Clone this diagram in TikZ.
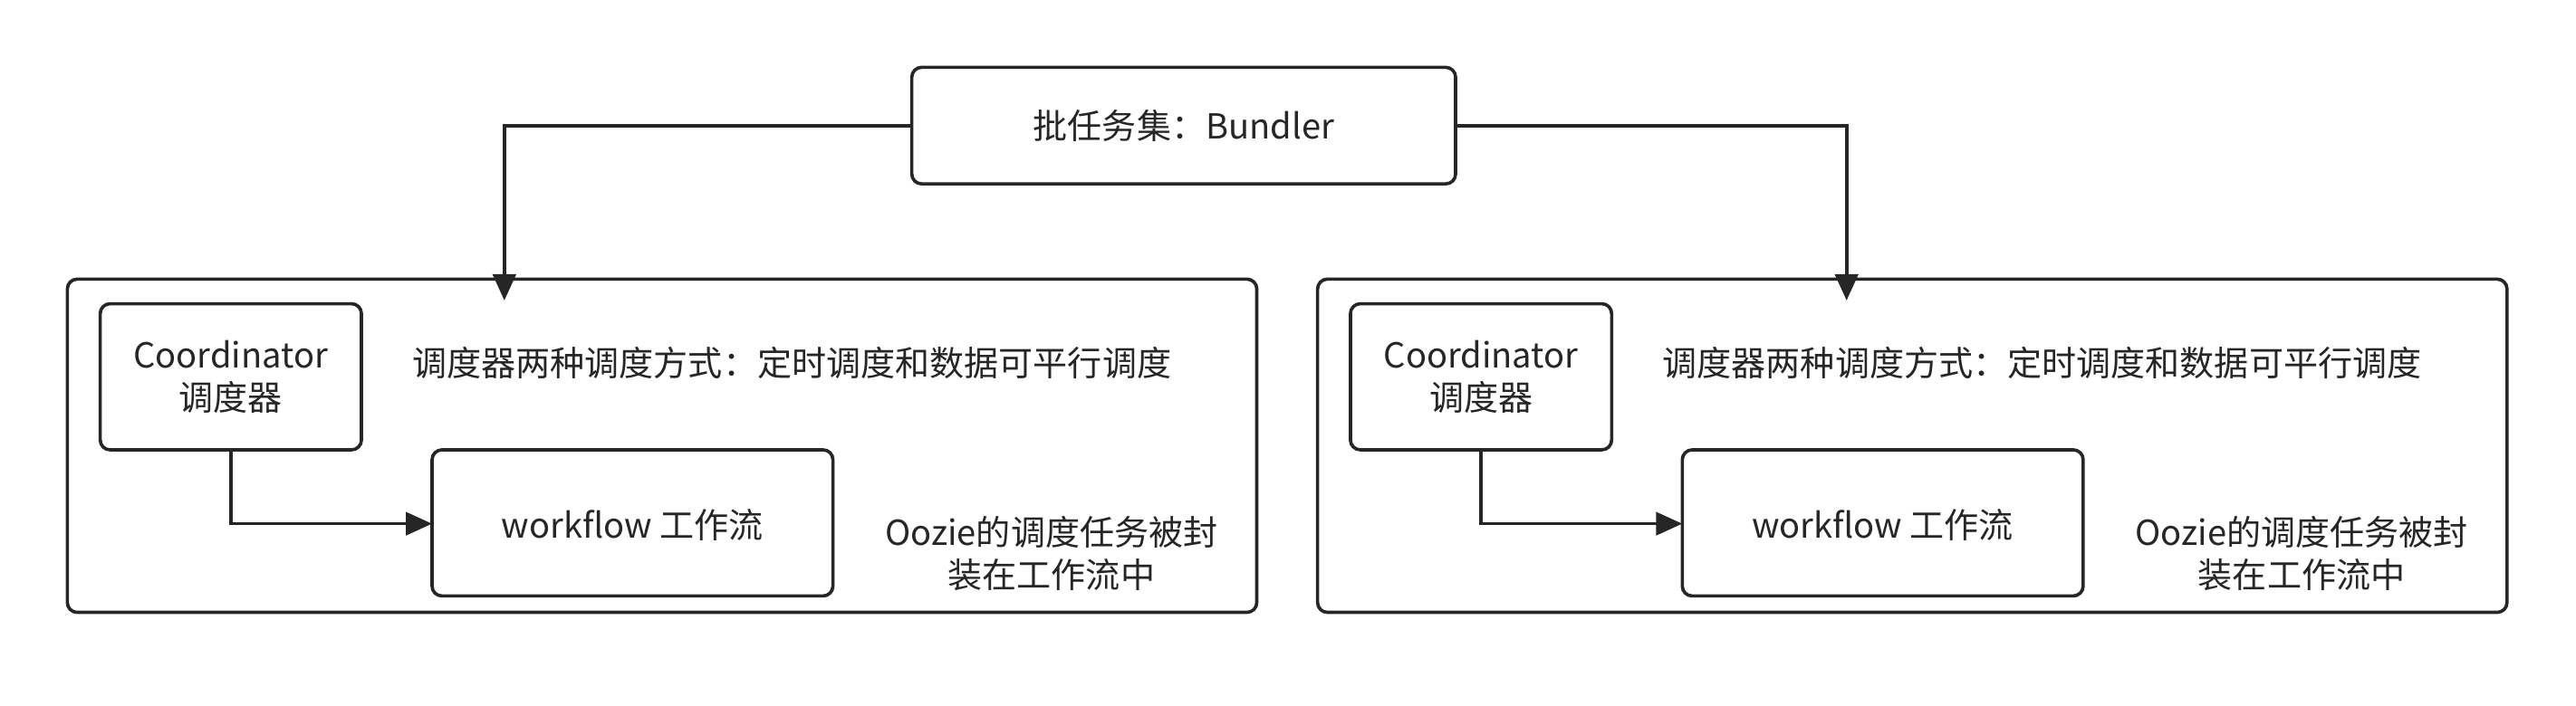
\documentclass[tikz,border=0pt]{standalone}
\usepackage{fontspec}
\setmainfont{Noto Sans CJK SC}
\usetikzlibrary{arrows.meta}
\begin{document}
\begin{tikzpicture}[x=0.5pt,y=-0.5pt,
  box/.style={draw=black!85,line width=1pt,rounded corners=3pt,fill=white},
  arr/.style={draw=black!85,line width=1pt,-{Triangle[length=8pt,width=7pt]}},
  lbl/.style={font=\fontsize{10.5}{13}\selectfont,text=black!85,align=center}]
\useasboundingbox (0,0) rectangle (1568,430);
\draw[box] (555,41) rectangle (886,112);
\node[lbl] (top) at (720.5,76.5) {批任务集：Bundler};
\coordinate (topL) at (555,76.5);
\coordinate (topR) at (886,76.5);
\foreach \dx/\n in {0/L,761/R}{
  \begin{scope}[xshift=\dx*0.5pt]
  \draw[box] (41,170) rectangle (765,373);
  \draw[box] (61,185) rectangle (220,274);
  \draw[box] (263,274) rectangle (507,363);
  \node[lbl] (coord\n) at (140.5,229.5) {Coordinator\\调度器};
  \node[lbl] (wf\n) at (385,320) {workflow 工作流};
  \node[lbl] (desc\n) at (482,221) {调度器两种调度方式：定时调度和数据可平行调度};
  \node[lbl] (oozie\n) at (640,337) {Oozie的调度任务被封\\装在工作流中};
  \coordinate (cb\n) at (140.5,274);
  \coordinate (wl\n) at (263,319);
  \draw[arr] (cb\n) |- (wl\n);
  \end{scope}}
\coordinate (tL) at (307,183);
\coordinate (tR) at (1124,183);
\draw[arr] (topL) -| (tL);
\draw[arr] (topR) -| (tR);
\end{tikzpicture}
\end{document}
